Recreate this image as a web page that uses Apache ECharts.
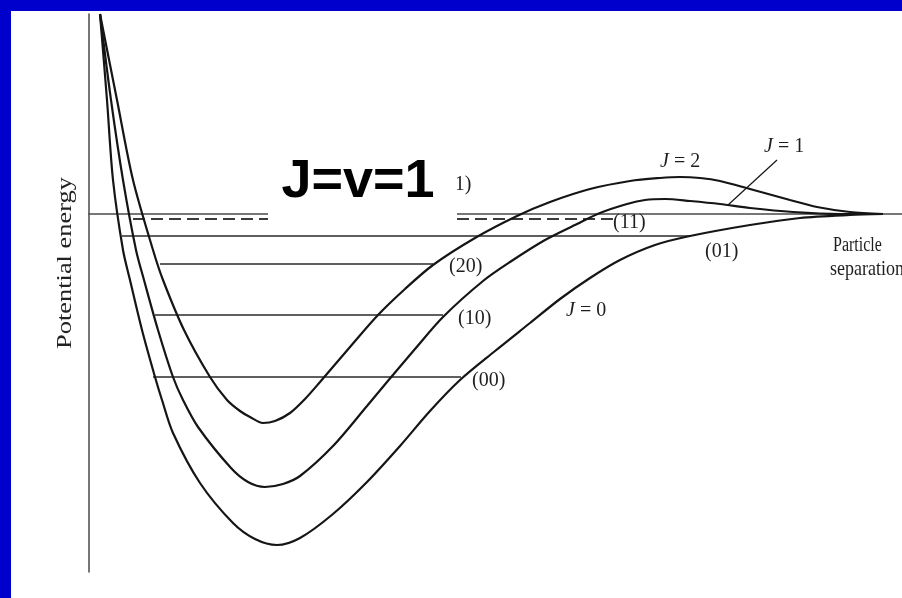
<!DOCTYPE html>
<html>
<head>
<meta charset="utf-8">
<script src="https://cdn.jsdelivr.net/npm/echarts@6/dist/echarts.min.js"></script>
<style>
  html, body { margin: 0; padding: 0; background: #ffffff; }
  #chart { width: 902px; height: 598px; }
</style>
</head>
<body>
<div id="chart"></div>
<script>
// Potential energy curves V(r) for rotational states J = 0, 1, 2
// separation r and energy E in arbitrary units, dissociation limit at E = 0
const curveJ0 = [
  [0.11, 2.00], [0.18, 1.14], [0.24, 0.34], [0.34, -0.36], [0.41, -0.66],
  [0.53, -1.16], [0.66, -1.63], [0.73, -1.86], [0.84, -2.19], [1.11, -2.69],
  [1.44, -3.09], [1.66, -3.25], [1.88, -3.31], [2.11, -3.24], [2.44, -3.00],
  [2.78, -2.68], [3.11, -2.32], [3.41, -1.97], [3.71, -1.66], [4.06, -1.37],
  [4.41, -1.09], [4.71, -0.85], [5.01, -0.64], [5.31, -0.46], [5.66, -0.31],
  [6.01, -0.22], [6.61, -0.11], [7.11, -0.04], [7.61, -0.01], [7.94, 0.00]
];
const curveJ1 = [
  [0.11, 2.00], [0.22, 1.14], [0.34, 0.34], [0.47, -0.36], [0.55, -0.66],
  [0.69, -1.16], [0.84, -1.63], [0.94, -1.86], [1.09, -2.13], [1.42, -2.54],
  [1.59, -2.68], [1.76, -2.73], [1.94, -2.70], [2.11, -2.62], [2.44, -2.32],
  [2.78, -1.92], [2.98, -1.68], [3.26, -1.35], [3.54, -1.03], [3.94, -0.67],
  [4.21, -0.48], [4.56, -0.26], [4.88, -0.10], [5.11, 0.01], [5.38, 0.10],
  [5.56, 0.14], [5.76, 0.15], [6.01, 0.13], [6.31, 0.10], [6.61, 0.06],
  [7.04, 0.02], [7.51, 0.00], [7.94, 0.00]
];
const curveJ2 = [
  [0.11, 2.00], [0.28, 1.14], [0.44, 0.34], [0.64, -0.36], [0.74, -0.66],
  [0.95, -1.16], [1.21, -1.63], [1.38, -1.86], [1.51, -1.97], [1.61, -2.03],
  [1.74, -2.09], [1.86, -2.07], [2.01, -1.99], [2.16, -1.85], [2.31, -1.68],
  [2.61, -1.33], [2.89, -1.01], [3.16, -0.75], [3.44, -0.51], [3.86, -0.24],
  [4.28, -0.02], [4.61, 0.12], [5.01, 0.25], [5.41, 0.33], [5.71, 0.36],
  [5.91, 0.37], [6.11, 0.36], [6.31, 0.33], [6.61, 0.25], [7.01, 0.14],
  [7.28, 0.07], [7.61, 0.02], [7.94, 0.00]
];

// Vibrational-rotational levels (J v): energy and the walls they span
const levelNames  = ['(00)', '(10)', '(20)', '(01)', '(11)'];
const levelEnergy = [-1.63, -1.01, -0.50, -0.22, -0.05];
const levelFrom   = [0.64, 0.66, 0.71, 0.33, 0.44];
const levelTo     = [3.72, 3.54, 3.44, 6.01, 5.24];
const levelDashed = [false, false, false, false, true];

// pointer from the "J = 1" label to its curve
const pointerJ1 = [[6.88, 0.54], [6.39, 0.09]];

const chart = echarts.init(document.getElementById('chart'), null, { renderer: 'canvas' });

const ink = '#151515';
const serif = '"Liberation Serif", "Times New Roman", serif';

function curveSeries(name, data) {
  return {
    name: name, type: 'line', data: data, smooth: 0.3,
    showSymbol: false, symbol: 'none', silent: true, z: 5,
    lineStyle: { color: ink, width: 2.2 }
  };
}

const levelSeries = levelNames.map((name, i) => ({
  name: name, type: 'line', symbol: 'none', silent: true, z: 4,
  data: [[levelFrom[i], levelEnergy[i]], [levelTo[i], levelEnergy[i]]],
  lineStyle: levelDashed[i]
    ? { color: '#3a3a3a', width: 2.2, type: [12, 6] }
    : { color: '#2a2a2a', width: 1.7 }
}));

function label(text, x, y, opts) {
  return Object.assign({
    type: 'text', x: x, y: y, z: 50,
    style: Object.assign({
      text: text, fill: '#1e1e1e', font: '20px ' + serif,
      align: 'left', verticalAlign: 'middle'
    }, opts && opts.style)
  }, opts && opts.el);
}

function jLabel(value, x, y) {
  return label('', x, y, {
    style: {
      text: '{j|J} = ' + value,
      rich: { j: { font: 'italic 20px ' + serif, fill: '#1e1e1e' } }
    }
  });
}

chart.setOption({
  animation: false,
  backgroundColor: '#ffffff',
  grid: { left: 89, right: 0, top: 14, bottom: 26 },
  xAxis: {
    type: 'value', min: 0, max: 8.13,
    axisLine: { show: true, onZero: true, lineStyle: { color: '#4a4a4a', width: 1.6 } },
    axisTick: { show: false }, axisLabel: { show: false }, splitLine: { show: false }
  },
  yAxis: {
    type: 'value', min: -3.58, max: 2.0,
    axisLine: { show: true, lineStyle: { color: '#555555', width: 1.6 } },
    axisTick: { show: false }, axisLabel: { show: false }, splitLine: { show: false }
  },
  series: [
    curveSeries('J = 0', curveJ0),
    curveSeries('J = 1', curveJ1),
    curveSeries('J = 2', curveJ2),
    ...levelSeries,
    {
      name: 'pointer', type: 'line', data: pointerJ1, symbol: 'none', silent: true,
      lineStyle: { color: ink, width: 1.2 }
    }
  ],
  graphic: [
    // slide frame
    { type: 'rect', shape: { x: 0, y: 0, width: 11, height: 598 }, style: { fill: '#0000cc' }, z: 200 },
    { type: 'rect', shape: { x: 0, y: 0, width: 902, height: 11 }, style: { fill: '#0000cc' }, z: 200 },

    // axis titles
    label('Potential energy', 66, 263, {
      el: { rotation: Math.PI / 2, scaleX: 1.32 },
      style: { font: '20px ' + serif, align: 'center', fill: '#222222' }
    }),
    label('Particle', 833, 246, { el: { scaleY: 1.3 }, style: { font: '16px ' + serif } }),
    label('separation', 830, 270, { el: { scaleY: 1.15 }, style: { font: '18px ' + serif } }),

    // level labels
    label(levelNames[0], 472, 381),
    label(levelNames[1], 458, 319),
    label(levelNames[2], 449, 267),
    label(levelNames[3], 705, 252),
    label(levelNames[4], 613, 223),
    label('(21)', 438, 185),

    // curve labels
    jLabel(2, 660, 162),
    jLabel(1, 764, 147),
    jLabel(0, 566, 311),

    // highlighted state
    { type: 'rect', shape: { x: 268, y: 158, width: 189, height: 64 }, style: { fill: '#ffffff' }, z: 100 },
    {
      type: 'text', x: 358, y: 182, z: 101,
      style: {
        text: 'J=v=1', fill: '#000000', font: 'bold 54px "Liberation Sans", Arial, sans-serif',
        align: 'center', verticalAlign: 'middle'
      }
    }
  ]
});
</script>
</body>
</html>
